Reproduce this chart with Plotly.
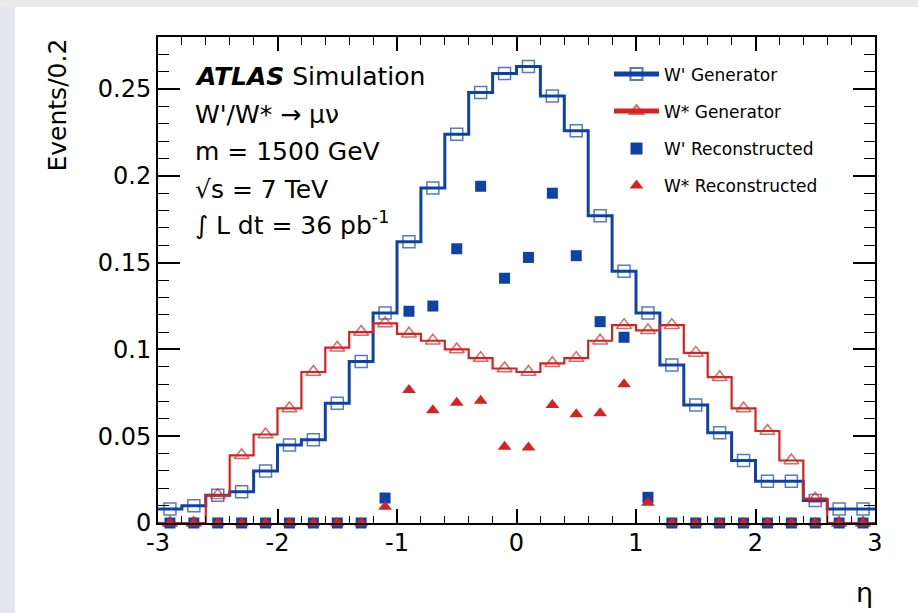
import plotly.graph_objects as go

# Pseudorapidity binning: 30 bins of width 0.2 between -3 and 3
eta_edges = [-3.0, -2.8, -2.6, -2.4, -2.2, -2.0, -1.8, -1.6, -1.4, -1.2, -1.0,
             -0.8, -0.6, -0.4, -0.2, 0.0, 0.2, 0.4, 0.6, 0.8, 1.0,
             1.2, 1.4, 1.6, 1.8, 2.0, 2.2, 2.4, 2.6, 2.8, 3.0]
eta_centers = [-2.9, -2.7, -2.5, -2.3, -2.1, -1.9, -1.7, -1.5, -1.3, -1.1,
               -0.9, -0.7, -0.5, -0.3, -0.1, 0.1, 0.3, 0.5, 0.7, 0.9,
               1.1, 1.3, 1.5, 1.7, 1.9, 2.1, 2.3, 2.5, 2.7, 2.9]

# Generator-level muon eta distributions (normalised, events per 0.2)
wprime_gen = [0.008, 0.010, 0.016, 0.018, 0.030, 0.045, 0.048, 0.069, 0.093, 0.121,
              0.162, 0.193, 0.224, 0.248, 0.259, 0.263, 0.246, 0.226, 0.177, 0.145,
              0.121, 0.091, 0.068, 0.052, 0.036, 0.024, 0.024, 0.013, 0.008, 0.008]
wstar_gen = [0.0, 0.0, 0.016, 0.039, 0.051, 0.066, 0.087, 0.101, 0.110, 0.115,
             0.109, 0.105, 0.100, 0.095, 0.089, 0.087, 0.092, 0.095, 0.105, 0.114,
             0.111, 0.114, 0.098, 0.084, 0.066, 0.053, 0.036, 0.014, 0.0, 0.0]

# Reconstructed-level distributions (muon acceptance |eta| < 1.2)
wprime_rec = [0.0, 0.0, 0.0, 0.0, 0.0, 0.0, 0.0, 0.0, 0.0, 0.0144,
              0.122, 0.125, 0.158, 0.194, 0.141, 0.153, 0.190, 0.154, 0.116, 0.107,
              0.0148, 0.0, 0.0, 0.0, 0.0, 0.0, 0.0, 0.0, 0.0, 0.0]
wstar_rec = [0.0, 0.0, 0.0, 0.0, 0.0, 0.0, 0.0, 0.0, 0.0, 0.0094,
             0.0766, 0.065, 0.0693, 0.0705, 0.044, 0.0435, 0.068, 0.0626, 0.0632, 0.080,
             0.0117, 0.0, 0.0, 0.0, 0.0, 0.0, 0.0, 0.0, 0.0, 0.0]

x_ticks = [-3, -2, -1, 0, 1, 2, 3]
x_ticktext = ["-3", "-2", "-1", "0", "1", "2", "3"]
y_ticks = [0, 0.05, 0.1, 0.15, 0.2, 0.25]
y_ticktext = ["0", "0.05", "0.1", "0.15", "0.2", "0.25"]

BLUE = "#0f42a6"
RED = "#d42323"
FONT = "DejaVu Sans"
SURROUND_TOP = "#ebebeb"
SURROUND_LEFT = "#e5e7ee"

# plot-area geometry in pixels (used to place page decorations)
W, H = 918, 613
L, R, T, B = 158, 43, 37, 90
PW, PH = W - L - R, H - T - B


def px(x):
    return (x - L) / PW


def py(y):
    return (H - B - y) / PH


def histo_points(values, msize):
    """Step outline through the bin edges with a marker at each bin centre."""
    xs, ys, sizes = [], [], []
    for lo, c, v in zip(eta_edges[:-1], eta_centers, values):
        xs += [lo, c]
        ys += [v, v]
        sizes += [0, msize]
    xs.append(eta_edges[-1])
    ys.append(values[-1])
    sizes.append(0)
    return xs, ys, sizes


fig = go.Figure()

xs, ys, sz = histo_points(wprime_gen, 12)
fig.add_trace(go.Scatter(
    x=xs, y=ys, mode="lines+markers", name="W' Generator",
    line=dict(color=BLUE, width=3, shape="hv"),
    marker=dict(symbol="square-open", size=sz, color=BLUE, line=dict(width=1.5)),
    cliponaxis=False, legend="legend"))

xs, ys, sz = histo_points(wstar_gen, 13)
fig.add_trace(go.Scatter(
    x=xs, y=ys, mode="lines+markers", name="W* Generator",
    line=dict(color=RED, width=2.2, shape="hv"),
    marker=dict(symbol="triangle-up-open", size=sz, color=RED, line=dict(width=1.5)),
    cliponaxis=False, legend="legend2"))

fig.add_trace(go.Scatter(
    x=eta_centers, y=wprime_rec, mode="markers", name="W' Reconstructed",
    marker=dict(symbol="square", size=11, color=BLUE),
    cliponaxis=False, legend="legend3"))

fig.add_trace(go.Scatter(
    x=eta_centers, y=wstar_rec, mode="markers", name="W* Reconstructed",
    marker=dict(symbol="triangle-up", size=12, color=RED),
    cliponaxis=False, legend="legend4"))

axis_common = dict(
    showline=True, linecolor="black", linewidth=2, mirror="allticks",
    ticks="inside", tickcolor="black", tickwidth=1.5,
    showgrid=False, zeroline=False,
    tickfont=dict(family=FONT, size=24, color="black"),
)

fig.update_xaxes(
    range=[-3, 3], tickvals=x_ticks, ticktext=x_ticktext, ticklen=14,
    ticklabelstandoff=-3,
    minor=dict(dtick=0.2, ticks="inside", ticklen=7.5, tickwidth=1.2,
               tickcolor="black", showgrid=False),
    **axis_common)
fig.update_yaxes(
    range=[0, 0.28], tickvals=y_ticks, ticktext=y_ticktext, ticklen=22,
    minor=dict(dtick=0.01, ticks="inside", ticklen=11, tickwidth=1.2,
               tickcolor="black", showgrid=False),
    **axis_common)

legend_rows = [74.5, 111.5, 149, 186]
legend_common = dict(
    xanchor="left", yanchor="middle", bgcolor="rgba(0,0,0,0)",
    font=dict(family=FONT, size=17, color="black"), itemsizing="constant",
    itemwidth=45,
)
fig.update_layout(
    legend=dict(x=px(609), y=py(legend_rows[0]), **legend_common),
    legend2=dict(x=px(609), y=py(legend_rows[1]), **legend_common),
    legend3=dict(x=px(609), y=py(legend_rows[2]), **legend_common),
    legend4=dict(x=px(609), y=py(legend_rows[3]), **legend_common),
)

# light grey surround along the top and left edges of the white page
fig.add_shape(type="rect", xref="paper", yref="paper",
              x0=px(-5), x1=px(W + 5), y0=py(7), y1=py(-5),
              fillcolor=SURROUND_TOP, line=dict(width=0), layer="below")
fig.add_shape(type="rect", xref="paper", yref="paper",
              x0=px(-5), x1=px(15), y0=py(H + 5), y1=py(7),
              fillcolor=SURROUND_LEFT, line=dict(width=0), layer="below")

label_font = dict(family=FONT, size=25, color="black")
info_lines = [
    ("<b><i>ATLAS</i></b> Simulation", 76),
    ("W'/W* \u2192 \u03bc\u03bd", 114),
    ("m = 1500 GeV", 151),
    ("\u221as = 7 TeV", 189),
    ("\u222b L dt = 36 pb<sup>-1</sup>", 224),
]
for text, ypix in info_lines:
    fig.add_annotation(text=text, xref="paper", yref="paper",
                       x=px(193), y=py(ypix), xanchor="left", yanchor="middle",
                       showarrow=False, font=label_font)

fig.add_annotation(text="Events/0.2", xref="paper", yref="paper",
                   x=px(57), y=1, xanchor="center", yanchor="top",
                   textangle=-90, showarrow=False, font=label_font)
fig.add_annotation(text="\u03b7", xref="paper", yref="paper",
                   x=1, y=py(592), xanchor="right", yanchor="middle",
                   showarrow=False, font=dict(family=FONT, size=27, color="black"))

fig.update_layout(
    width=W, height=H,
    margin=dict(l=L, r=R, t=T, b=B),
    paper_bgcolor="white", plot_bgcolor="white",
    showlegend=True,
)

# keep the page free of scrollbars so the full figure is visible
page_css = (
    "document.documentElement.style.overflow='hidden';"
    "document.body.style.margin='0';"
    "document.body.style.overflow='hidden';"
)
fig.write_html("out.html", post_script=page_css)
